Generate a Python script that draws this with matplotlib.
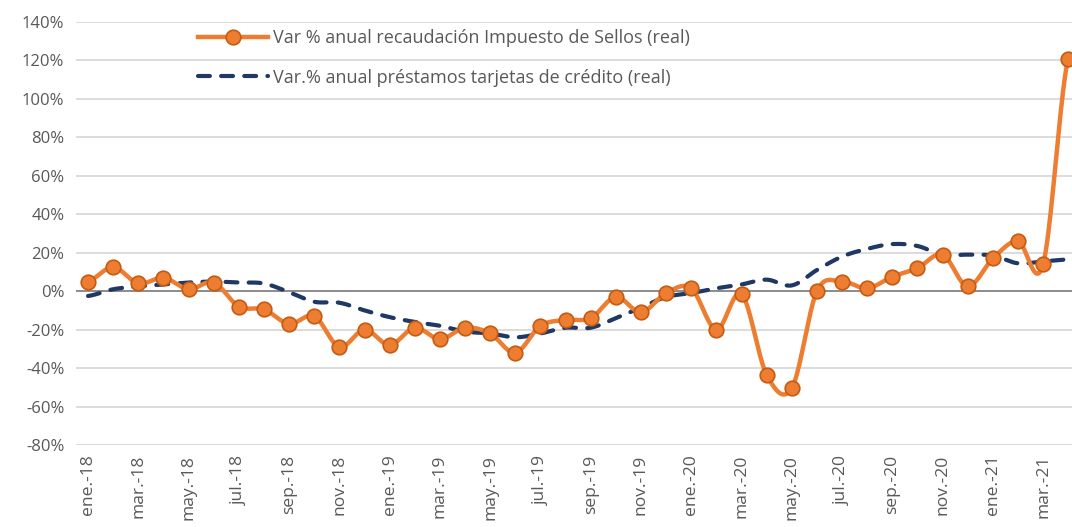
import matplotlib
matplotlib.use("Agg")
import matplotlib.pyplot as plt
import numpy as np

plt.rcParams['font.family'] = ['Open Sans', 'DejaVu Sans']

months = ["ene.", "feb.", "mar.", "abr.", "may.", "jun.", "jul.", "ago.", "sep.", "oct.", "nov.", "dic."]
fechas = [m + "-" + y for y in ["18", "19", "20"] for m in months] + ["ene.-21", "feb.-21", "mar.-21", "abr.-21"]

# var % anual recaudacion impuesto de sellos (real)
sellos = [5, 12.5, 4, 7, 1, 4.5, -8, -9.5, -17, -13, -29, -20,
          -28, -19, -25, -19, -22, -32, -18, -15, -14, -3, -11, -1,
          1.5, -20, -1.5, -43.5, -50.5, 0, 5, 1.5, 7.5, 12, 19, 2.5,
          17, 26, 14, 121]

# var % anual prestamos tarjetas de credito (real)
tarjetas = [-2.5, 1, 2.5, 3.5, 4.5, 5, 4.5, 4, -0.5, -5.5, -6, -10,
            -13.5, -16, -18, -21, -22, -24, -22, -19, -19, -14, -8.5, -3,
            -1, 1.5, 3.5, 6, 3, 11, 18, 22, 24.5, 23.5, 19, 19,
            18.5, 14.5, 15.5, 16.5]


def smooth(y, n=20):
    # curva suavizada tipo excel (catmull-rom)
    y = np.asarray(y, dtype=float) / 100
    x = np.arange(len(y), dtype=float)
    xs, ys = [], []
    for i in range(len(y) - 1):
        p0 = y[i - 1] if i > 0 else y[i]
        p3 = y[i + 2] if i + 2 < len(y) else y[i + 1]
        p1, p2 = y[i], y[i + 1]
        t = np.linspace(0, 1, n, endpoint=False)
        c1 = p1 + (p2 - p0) / 6
        c2 = p2 - (p3 - p1) / 6
        ys.extend((1 - t) ** 3 * p1 + 3 * (1 - t) ** 2 * t * c1 + 3 * (1 - t) * t ** 2 * c2 + t ** 3 * p2)
        xs.extend(x[i] + t)
    xs.append(x[-1])
    ys.append(y[-1])
    return xs, ys


naranja = "#ed7d31"
azul = "#203864"
dash = (0, (2.85, 2.7))

fig = plt.figure(figsize=(10.72, 5.27), dpi=100)
ax = fig.add_axes([75.5 / 1072, 1 - 445 / 527, 1 - 75.5 / 1072, (445 - 22) / 527])

idx = np.arange(len(fechas))
ax.axhline(0, color="#868686", lw=1.3, zorder=1)

xs, ys = smooth(sellos)
ax.plot(xs, ys, color=naranja, lw=3.2, solid_capstyle="round", zorder=3)
ax.plot(idx, np.array(sellos) / 100, ls="none", marker="o", ms=10.5,
        mfc=naranja, mec="#c55a11", mew=1.2, zorder=4)

xs, ys = smooth(tarjetas)
ax.plot(xs, ys, color=azul, lw=3, ls=dash, dash_capstyle="round", zorder=2)

# handles para la leyenda
ax.plot([], [], color=naranja, lw=3.2, marker="o", ms=10.5, mfc=naranja, mec="#c55a11",
        mew=1.2, label="Var % anual recaudación Impuesto de Sellos (real)")
ax.plot([], [], color=azul, lw=3, ls=dash, dash_capstyle="round",
        label="Var.% anual préstamos tarjetas de crédito (real)")
h, l = ax.get_legend_handles_labels()
ax.legend(h, l, loc="upper left", bbox_to_anchor=(198 / 1072, 1 - 29 / 527),
          bbox_transform=fig.transFigure, frameon=False, borderpad=0, borderaxespad=0,
          fontsize=13, labelcolor="#595959", handlelength=3.9, handletextpad=0.28,
          labelspacing=1.2)

ax.set_xlim(-0.5, 39.15)
ax.set_ylim(-0.8, 1.4)
ax.set_yticks(np.arange(-0.8, 1.41, 0.2))
ax.set_yticklabels([f"{v:.0f}%" for v in np.arange(-80, 141, 20)])
ax.set_xticks(idx[::2])
ax.set_xticklabels(fechas[::2], rotation=90)
ax.grid(axis="y", color="#d9d9d9", lw=1.3)
ax.set_axisbelow(True)
for s in ax.spines.values():
    s.set_visible(False)
ax.tick_params(length=0, labelcolor="#595959")
ax.tick_params(axis="y", labelsize=12, pad=8)
ax.tick_params(axis="x", labelsize=12.6, pad=7)

plt.savefig("out.png", dpi=100)
